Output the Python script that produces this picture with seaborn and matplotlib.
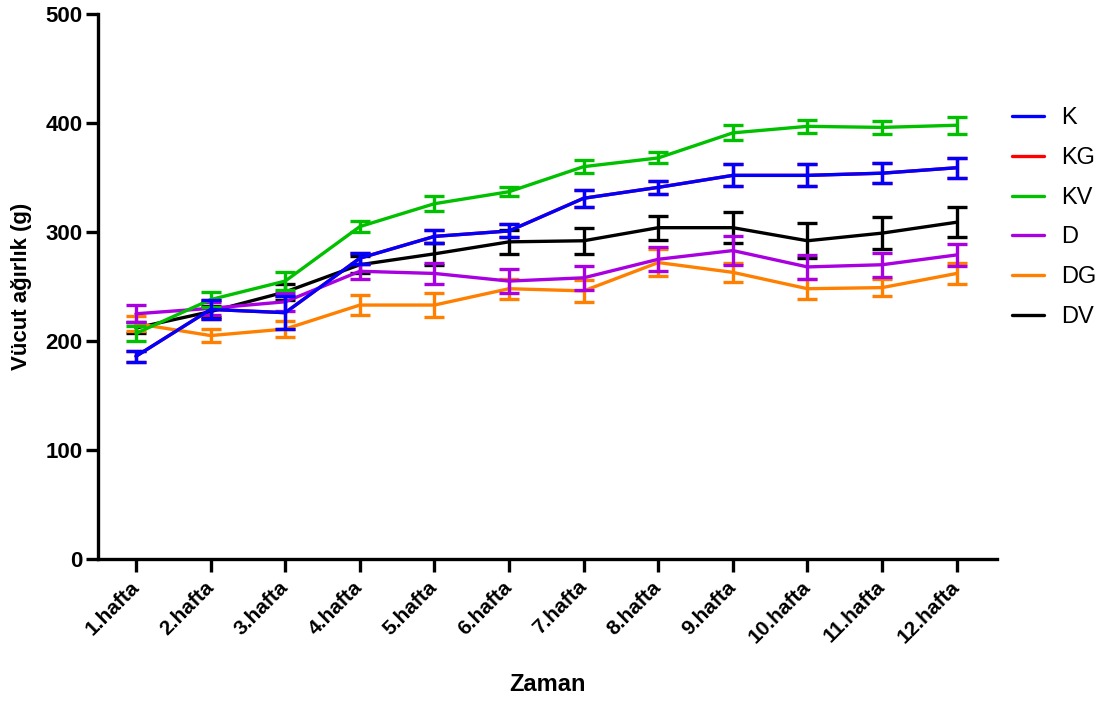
import numpy as np
import pandas as pd
import matplotlib
matplotlib.use("Agg")
import matplotlib.pyplot as plt
import seaborn as sns

# Weekly body weight (mean ± SEM) per group
weeks = ["1.hafta", "2.hafta", "3.hafta", "4.hafta", "5.hafta", "6.hafta",
         "7.hafta", "8.hafta", "9.hafta", "10.hafta", "11.hafta", "12.hafta"]
groups = ["K", "KG", "KV", "D", "DG", "DV"]

K_mean = [186, 229, 226, 276, 296, 301, 331, 341, 352, 352, 354, 359]
K_sem = [5, 9, 15, 5, 6, 6, 8, 6, 10, 10, 9, 9]
KG_mean = [186, 229, 226, 276, 296, 301, 331, 341, 352, 352, 354, 359]
KG_sem = [5, 9, 15, 5, 6, 6, 8, 6, 10, 10, 9, 9]
KV_mean = [207, 238, 255, 305, 326, 337, 360, 368, 391, 397, 396, 398]
KV_sem = [7, 7, 8, 5, 7, 4, 6, 5, 7, 6, 6, 8]
D_mean = [225, 230, 236, 264, 262, 255, 258, 275, 283, 268, 270, 279]
D_sem = [8, 6, 8, 7, 10, 11, 11, 11, 13, 11, 11, 10]
DG_mean = [216, 205, 211, 233, 233, 248, 246, 272, 263, 248, 249, 262]
DG_sem = [7, 6, 7, 9, 11, 9, 10, 12, 9, 9, 8, 10]
DV_mean = [212, 227, 245, 270, 280, 291, 292, 304, 304, 292, 299, 309]
DV_sem = [5, 5, 7, 8, 10, 11, 12, 11, 14, 16, 15, 14]

means = {"K": K_mean, "KG": KG_mean, "KV": KV_mean, "D": D_mean, "DG": DG_mean, "DV": DV_mean}
sems = {"K": K_sem, "KG": KG_sem, "KV": KV_sem, "D": D_sem, "DG": DG_sem, "DV": DV_sem}
colors = {"K": "#0000FF", "KG": "#FF0000", "KV": "#00C000",
          "D": "#A800E0", "DG": "#FF8000", "DV": "#000000"}

rows = []
for g in groups:
    for i, w in enumerate(weeks):
        rows.append({"group": g, "pos": i, "week": w, "mean": means[g][i], "sem": sems[g][i]})
df = pd.DataFrame(rows)

sns.set_theme(style="ticks")
plt.rcParams["font.family"] = ["Liberation Sans", "DejaVu Sans"]
plt.rcParams["text.color"] = "black"
plt.rcParams["axes.labelcolor"] = "black"
plt.rcParams["xtick.color"] = "black"
plt.rcParams["ytick.color"] = "black"
plt.rcParams["axes.edgecolor"] = "black"

fig = plt.figure(figsize=(11.08, 7.04), dpi=100)
ax = fig.add_axes([0.0884, 0.206, 0.8114, 0.774])

# drawing order: KG under K so the overlapping red line stays hidden
draw_order = ["KG", "DV", "DG", "D", "KV", "K"]
for z, g in enumerate(draw_order):
    sub = df[df["group"] == g]
    sns.lineplot(data=sub, x="pos", y="mean", color=colors[g], linewidth=2.4,
                 ax=ax, zorder=3 + z, legend=False)
    ax.errorbar(sub["pos"], sub["mean"], yerr=sub["sem"], fmt="none",
                ecolor=colors[g], elinewidth=2.4, capsize=7.5, capthick=2.4,
                zorder=3 + z)

ax.set_xlim(-0.51, 11.54)
ax.set_ylim(0, 500)
ax.set_yticks([0, 100, 200, 300, 400, 500])
ax.set_xticks(range(len(weeks)))
ax.set_xticklabels(weeks, rotation=45, ha="right", va="center",
                   rotation_mode="anchor", fontsize=15, fontweight="bold")
for lab in ax.get_yticklabels():
    lab.set_fontsize(16)
    lab.set_fontweight("bold")

ax.set_xlabel("Zaman", fontsize=17, fontweight="bold", labelpad=19)
ax.set_ylabel("Vücut ağırlık (g)", fontsize=16, fontweight="bold", labelpad=10)

sns.despine(ax=ax)
for side in ["left", "bottom"]:
    ax.spines[side].set_linewidth(2.4)
ax.tick_params(axis="both", length=9, width=2.4, color="black", pad=2)
ax.tick_params(axis="x", pad=9)

handles = [plt.Line2D([], [], color=colors[g], linewidth=2.4) for g in groups]
ax.legend(handles, groups, loc="upper left", bbox_to_anchor=(1.0, 0.857),
          frameon=False, fontsize=17, handlelength=1.35, handletextpad=0.7,
          labelspacing=0.75, borderaxespad=0.25)

fig.savefig("out.png", dpi=100)
